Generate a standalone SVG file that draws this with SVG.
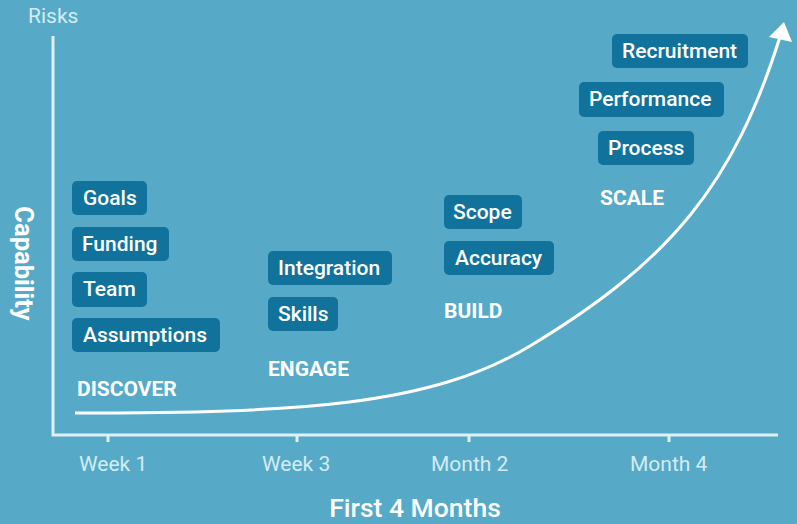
<svg xmlns="http://www.w3.org/2000/svg" width="797" height="524" viewBox="0 0 797 524">
<style>
.box{fill:#11739b}
.bt{font-family:Roboto,"Liberation Sans",sans-serif;font-size:21px;font-weight:500;fill:#ffffff}
.stage{font-family:Roboto,"Liberation Sans",sans-serif;font-size:21px;font-weight:700;fill:#ffffff}
.tick{font-family:Roboto,"Liberation Sans",sans-serif;font-size:21px;fill:#d3ecf4}
.axis{stroke:#dcf0f6;stroke-width:3;fill:none}
</style>
<rect x="0" y="0" width="797" height="524" fill="#56aac7"/>
<g id="axes">
<path class="axis" d="M53 36 V435 H778"/>
<path class="axis" d="M108 435 V442 M297 435 V442 M469 435 V442 M669 435 V442"/>
<text class="tick" x="28" y="23">Risks</text>
<text class="tick" x="79" y="471">Week 1</text>
<text class="tick" x="262" y="471">Week 3</text>
<text class="tick" x="431" y="471">Month 2</text>
<text class="tick" x="630" y="471">Month 4</text>
<text x="415" y="517" text-anchor="middle" font-family="Roboto,'Liberation Sans',sans-serif" font-size="26.5" font-weight="500" fill="#ffffff">First 4 Months</text>
<text transform="translate(15,263.5) rotate(90)" text-anchor="middle" font-family="Roboto,'Liberation Sans',sans-serif" font-size="25.5" font-weight="700" fill="#ffffff">Capability</text>
</g>
<g id="connectors">
<path d="M75 413 C300 413 430 406 530 346 C671 261 733.5 184 780 37" fill="none" stroke="#ffffff" stroke-width="3"/>
<polygon points="784,22 769,37 792,42" fill="#ffffff"/>
</g>
<g id="discover">
<rect class="box" x="72" y="181" width="75" height="34" rx="5"/><text class="bt" x="83" y="205">Goals</text>
<rect class="box" x="72" y="227" width="97" height="34" rx="5"/><text class="bt" x="82" y="251">Funding</text>
<rect class="box" x="72" y="272" width="75" height="35" rx="5"/><text class="bt" x="83" y="296">Team</text>
<rect class="box" x="72" y="318" width="148" height="34" rx="5"/><text class="bt" x="83" y="342">Assumptions</text>
<text class="stage" x="77" y="396">DISCOVER</text>
</g>
<g id="engage">
<rect class="box" x="268" y="251" width="124" height="34" rx="5"/><text class="bt" x="278" y="275">Integration</text>
<rect class="box" x="268" y="297" width="70" height="34" rx="5"/><text class="bt" x="278" y="321">Skills</text>
<text class="stage" x="268" y="376">ENGAGE</text>
</g>
<g id="build">
<rect class="box" x="444" y="195" width="78" height="34" rx="5"/><text class="bt" x="453" y="219">Scope</text>
<rect class="box" x="444" y="241" width="110" height="34" rx="5"/><text class="bt" x="455" y="265">Accuracy</text>
<text class="stage" x="444" y="318">BUILD</text>
</g>
<g id="scale">
<rect class="box" x="612" y="34" width="136" height="34" rx="5"/><text class="bt" x="622" y="58">Recruitment</text>
<rect class="box" x="579" y="82" width="145" height="35" rx="5"/><text class="bt" x="589" y="106">Performance</text>
<rect class="box" x="598" y="131" width="96" height="34" rx="5"/><text class="bt" x="608" y="155">Process</text>
<text class="stage" x="600" y="205">SCALE</text>
</g>
</svg>
